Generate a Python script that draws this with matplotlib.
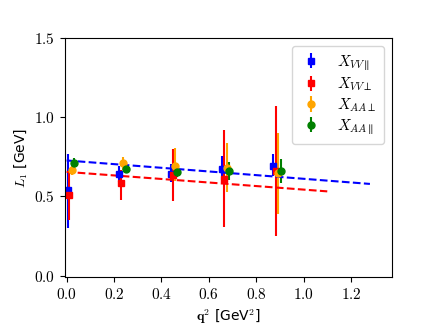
import matplotlib
matplotlib.use("Agg")
import matplotlib.pyplot as plt
import numpy as np

plt.rcParams['font.family'] = 'cmr10'
plt.rcParams['mathtext.fontset'] = 'cm'
plt.rcParams['axes.formatter.use_mathtext'] = True

# q^2 positions (slightly shifted per series in the original)
q_vv_par = [0.004, 0.22, 0.44, 0.655, 0.872]
q_vv_perp = [0.011, 0.23, 0.447, 0.665, 0.883]
q_aa_perp = [0.021, 0.239, 0.457, 0.677, 0.893]
q_aa_par = [0.030, 0.251, 0.467, 0.687, 0.906]

# L1 values and asymmetric errors (lower, upper)
L_vv_par = [0.539, 0.643, 0.643, 0.674, 0.690]
lo_vv_par = [0.235, 0.05, 0.05, 0.07, 0.06]
hi_vv_par = [0.231, 0.05, 0.06, 0.08, 0.075]

L_vv_perp = [0.511, 0.586, 0.636, 0.613, 0.659]
lo_vv_perp = [0.16, 0.11, 0.165, 0.305, 0.41]
hi_vv_perp = [0.15, 0.08, 0.165, 0.305, 0.41]

L_aa_perp = [0.665, 0.708, 0.695, 0.680, 0.649]
lo_aa_perp = [0.03, 0.04, 0.10, 0.15, 0.26]
hi_aa_perp = [0.03, 0.04, 0.11, 0.155, 0.25]

L_aa_par = [0.712, 0.676, 0.655, 0.659, 0.659]
lo_aa_par = [0.03, 0.03, 0.035, 0.055, 0.075]
hi_aa_par = [0.03, 0.03, 0.035, 0.06, 0.075]

# linear fits (start/end points)
fit_vv_par_q = [0.0, 1.28]
fit_vv_par_L = [0.727, 0.579]
fit_vv_perp_q = [0.0, 1.10]
fit_vv_perp_L = [0.655, 0.532]

fig = plt.figure(figsize=(4.36, 3.27), dpi=100)
ax = fig.add_axes([0.149, 0.153, 0.750, 0.731])

ax.errorbar(q_vv_par, L_vv_par, yerr=[lo_vv_par, hi_vv_par], fmt='s', color='blue',
            ms=5, elinewidth=1.5, label=r'$X_{VV\parallel}$')
ax.errorbar(q_vv_perp, L_vv_perp, yerr=[lo_vv_perp, hi_vv_perp], fmt='s', color='red',
            ms=5, elinewidth=1.5, label=r'$X_{VV\perp}$')
ax.errorbar(q_aa_perp, L_aa_perp, yerr=[lo_aa_perp, hi_aa_perp], fmt='o', color='orange',
            ms=5, elinewidth=1.5, label=r'$X_{AA\perp}$')
ax.errorbar(q_aa_par, L_aa_par, yerr=[lo_aa_par, hi_aa_par], fmt='o', color='green',
            ms=5, elinewidth=1.5, label=r'$X_{AA\parallel}$')

ax.plot(fit_vv_par_q, fit_vv_par_L, '--', color='blue', lw=1.5)
ax.plot(fit_vv_perp_q, fit_vv_perp_L, '--', color='red', lw=1.5)

ax.set_xlim(-0.007, 1.373)
ax.set_ylim(-0.008, 1.5)
ax.set_xticks([0.0, 0.2, 0.4, 0.6, 0.8, 1.0, 1.2])
ax.set_yticks([0.0, 0.5, 1.0, 1.5])
ax.tick_params(labelsize=11)

ax.set_xlabel(r'$\mathbf{q}^2$ [GeV$^2$]', family='DejaVu Sans', fontsize=10)
ax.set_ylabel(r'$L_1$ [GeV]', family='DejaVu Sans', fontsize=10)

ax.legend(loc='upper right', fontsize=11, handlelength=1.5, borderpad=0.5,
          labelspacing=0.2, handletextpad=1.0)

fig.savefig('out.png', dpi=100)
